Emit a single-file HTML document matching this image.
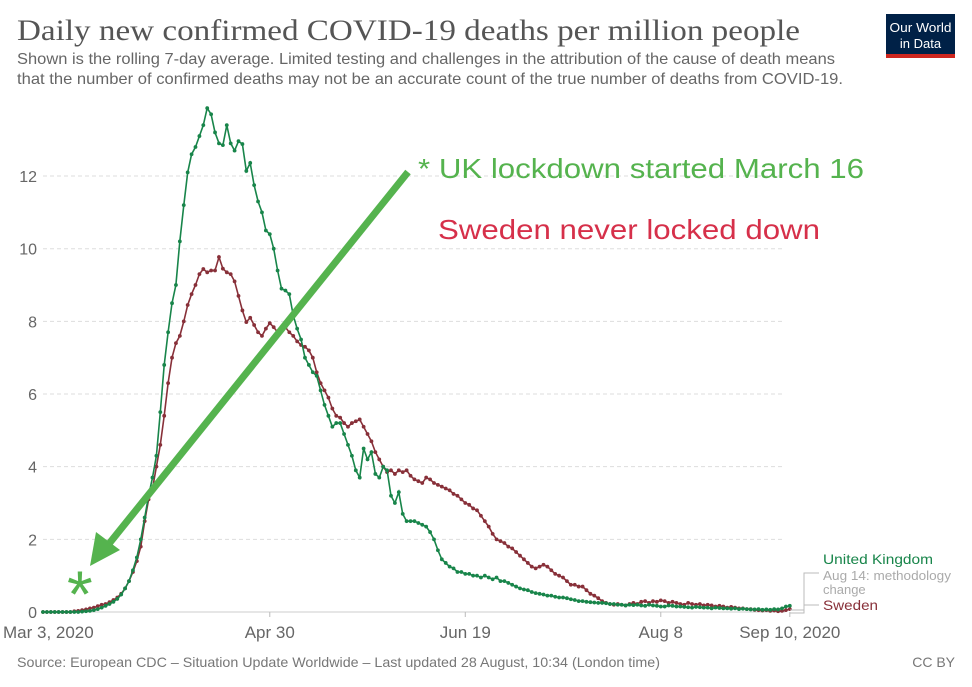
<!DOCTYPE html>
<html><head><meta charset="utf-8"><style>
html,body{margin:0;padding:0;background:#fff;}
svg{display:block;font-family:"Liberation Sans",sans-serif;}
</style></head><body>
<svg id="chart" width="972" height="687" viewBox="0 0 972 687" xmlns="http://www.w3.org/2000/svg">
<text x="17" y="40" font-family="Liberation Serif, serif" font-size="30" fill="#555" textLength="783" lengthAdjust="spacingAndGlyphs">Daily new confirmed COVID-19 deaths per million people</text>
<text x="17" y="64" font-size="16" fill="#666" textLength="818" lengthAdjust="spacingAndGlyphs">Shown is the rolling 7-day average. Limited testing and challenges in the attribution of the cause of death means</text>
<text x="17" y="84" font-size="16" fill="#666" textLength="826" lengthAdjust="spacingAndGlyphs">that the number of confirmed deaths may not be an accurate count of the true number of deaths from COVID-19.</text>
<g>
<rect x="886" y="14" width="69" height="40" fill="#002147"/>
<rect x="886" y="54" width="69" height="4" fill="#ce261e"/>
<text x="920.5" y="32" font-size="13" fill="#fff" text-anchor="middle" textLength="62" lengthAdjust="spacingAndGlyphs">Our World</text>
<text x="920.5" y="48" font-size="13" fill="#fff" text-anchor="middle">in Data</text>
</g>
<g id="grid"></g>
<g id="yaxis"></g>
<g id="xaxis"></g>
<g id="series"></g>
<g>
<line x1="408" y1="172" x2="108" y2="545" stroke="#55b34e" stroke-width="7"/>
<polygon points="90,566 96,532 120,550" fill="#55b34e"/>
</g>
<text x="67" y="617" font-size="66" fill="#55b34e">*</text>
<text x="418" y="178" font-size="28" fill="#55b34e" textLength="446" lengthAdjust="spacingAndGlyphs">* UK lockdown started March 16</text>
<text x="438" y="239" font-size="28" fill="#d6304a" textLength="382" lengthAdjust="spacingAndGlyphs">Sweden never locked down</text>
<g>
<text x="823" y="564" font-size="14" fill="#18854a" textLength="110" lengthAdjust="spacingAndGlyphs">United Kingdom</text>
<text x="823" y="580" font-size="13" fill="#aaa" textLength="128" lengthAdjust="spacingAndGlyphs">Aug 14: methodology</text>
<text x="823" y="594" font-size="13" fill="#aaa">change</text>
<text x="823" y="610" font-size="14" fill="#883039" textLength="55" lengthAdjust="spacingAndGlyphs">Sweden</text>
<polyline points="790,610 804,610 804,573 819,573" fill="none" stroke="#bbb" stroke-width="1"/>
<polyline points="790,613 804,613 804,605 819,605" fill="none" stroke="#bbb" stroke-width="1"/>
</g>
<text x="17" y="667" font-size="14" fill="#777" textLength="643" lengthAdjust="spacingAndGlyphs">Source: European CDC – Situation Update Worldwide – Last updated 28 August, 10:34 (London time)</text>
<text x="955" y="667" font-size="14" fill="#777" text-anchor="end">CC BY</text>
</svg>
<script>
const yTicks = [0,2,4,6,8,10,12];
const xTickLabels = ["Mar 3, 2020","Apr 30","Jun 19","Aug 8","Sep 10, 2020"];
const xTickDays = [0,58,108,158,191];
const ukValues = [0,0,0,0,0,0,0,0,0,0,0.01,0.02,
0.03,0.05,0.08,0.12,0.17,0.22,0.28,0.36,0.48,0.65,0.85,1.15,1.5,2.0,2.6,3.2,3.7,4.3,5.5,6.8,7.7,8.5,9.0,10.2,11.2,12.1,12.6,12.8,13.1,13.4,13.87,13.7,13.2,12.9,12.85,13.4,12.9,12.7,12.96,12.88,12.14,12.36,11.75,11.3,11.0,10.5,10.4,10.0,9.4,8.9,8.85,8.75,8.17,7.8,7.5,7.0,6.8,6.6,6.5,6.1,5.7,5.4,5.1,5.2,5.2,4.9,4.6,4.3,3.9,3.7,4.5,4.2,4.4,3.8,3.7,4.0,3.9,3.2,3.0,3.3,2.7,2.5,2.5,2.5,2.45,2.4,2.35,2.2,2.0,1.7,1.45,1.35,1.25,1.2,1.1,1.1,1.05,1.05,1.0,1.0,0.95,1.0,0.95,0.9,0.95,0.85,0.85,0.8,0.75,0.7,0.65,0.62,0.6,0.55,0.52,0.5,0.48,0.45,0.45,0.42,0.4,0.4,0.38,0.35,0.33,0.3,0.3,0.28,0.27,
0.26,0.25,0.25,0.24,0.22,0.22,0.2,0.2,0.18,0.2,
0.19,0.2,0.18,0.17,0.2,0.18,0.17,0.15,0.15,0.18,
0.17,0.15,0.15,0.14,0.13,0.12,0.14,0.13,0.12,0.12,
0.1,0.12,0.11,0.1,0.1,0.09,0.1,0.08,0.09,0.08,
0.07,0.07,0.08,0.06,0.07,0.06,0.08,0.07,0.1,0.15,0.17];
const swedenValues = [0,0,0,0,0,0,0,0,0.02,0.03,0.05,0.07,0.1,0.12,0.16,0.2,0.22,0.27,0.33,0.4,0.5,0.65,0.85,1.1,1.4,1.8,2.5,3.1,3.4,4.0,4.6,5.4,6.3,7.0,7.4,7.6,8.0,8.45,8.75,9.0,9.3,9.44,9.35,9.4,9.4,9.77,9.45,9.35,9.3,9.1,8.7,8.3,7.98,8.1,7.9,7.7,7.6,7.8,7.95,7.84,7.7,7.8,7.84,7.7,7.6,7.45,7.35,7.3,7.2,7.0,6.6,6.3,6.1,5.9,5.6,5.4,5.35,5.2,5.1,5.2,5.25,5.3,5.1,4.9,4.7,4.4,4.2,4.0,3.85,3.9,3.8,3.9,3.85,3.9,3.75,3.65,3.6,3.55,3.7,3.65,3.55,3.5,3.45,3.4,3.35,3.25,3.2,3.1,3.0,2.95,2.85,2.8,2.65,2.5,2.35,2.15,2.0,1.95,1.9,1.8,1.75,1.65,1.55,1.45,1.35,1.25,1.2,1.25,1.3,1.25,1.15,1.05,1.0,0.95,0.85,0.75,0.75,0.7,0.7,0.6,0.5,
0.45,0.38,0.3,0.25,0.22,0.2,0.22,0.2,0.18,0.22,
0.25,0.22,0.28,0.3,0.25,0.3,0.28,0.32,0.3,0.25,
0.28,0.25,0.22,0.2,0.25,0.22,0.2,0.22,0.18,0.2,
0.18,0.15,0.17,0.15,0.12,0.14,0.12,0.1,0.1,0.08,
0.08,0.06,0.05,0.04,0.05,0.03,0.04,0.02,0.03,0.05,0.08];

const NS = "http://www.w3.org/2000/svg";
const X0 = 43, PXDAY = 3.91, Y0 = 612, PXUNIT = 36.33;
function xScale(d){ return X0 + d * PXDAY; }
function yScale(v){ return Y0 - v * PXUNIT; }
function mk(tag, attrs, parent){
  const el = document.createElementNS(NS, tag);
  for (const k in attrs) el.setAttribute(k, attrs[k]);
  parent.appendChild(el);
  return el;
}
const grid = document.getElementById('grid');
const yaxis = document.getElementById('yaxis');
const xaxis = document.getElementById('xaxis');
const series = document.getElementById('series');

yTicks.forEach(function(t){
  const y = yScale(t);
  const gl = mk('line', {x1:X0, x2:785, y1:y, y2:y, stroke: t===0 ? '#ccc' : '#ddd', 'stroke-dasharray': t===0 ? '' : '4,3', 'stroke-width':1}, grid);
  
  
  const lb = mk('text', {x:37, y:y+6, 'font-size':16, fill:'#666', 'text-anchor':'end'}, yaxis);
  lb.textContent = t;
  
  
});

xTickLabels.forEach(function(lbl, i){
  const x = xScale(xTickDays[i]);
  if (i > 0) {
    const tk = mk('line', {x1:x, x2:x, y1:612, y2:617, stroke:'#bbb'}, xaxis);
    
    
  }
  const anchor = i === 0 ? 'start' : 'middle';
  const tx = i === 0 ? 3 : x;
  const t = mk('text', {x:tx, y:638, 'font-size':17, fill:'#666', 'text-anchor':anchor}, xaxis);
  t.textContent = lbl;
  
  
});

function drawSeries(vals, color, name){
  const g = mk('g', {}, series);
  
  
  const pts = vals.map(function(v, i){ return xScale(i).toFixed(1) + ',' + yScale(v).toFixed(1); }).join(' ');
  const pl = mk('polyline', {points:pts, fill:'none', stroke:color, 'stroke-width':1.6}, g);
  
  
  vals.forEach(function(v, i){
    const c = mk('circle', {cx:xScale(i), cy:yScale(v), r:1.9, fill:color}, g);
    
    
  });
}
drawSeries(swedenValues, '#883039', 'sweden-series');
drawSeries(ukValues, '#18854a', 'uk-series');
</script>
</body></html>
